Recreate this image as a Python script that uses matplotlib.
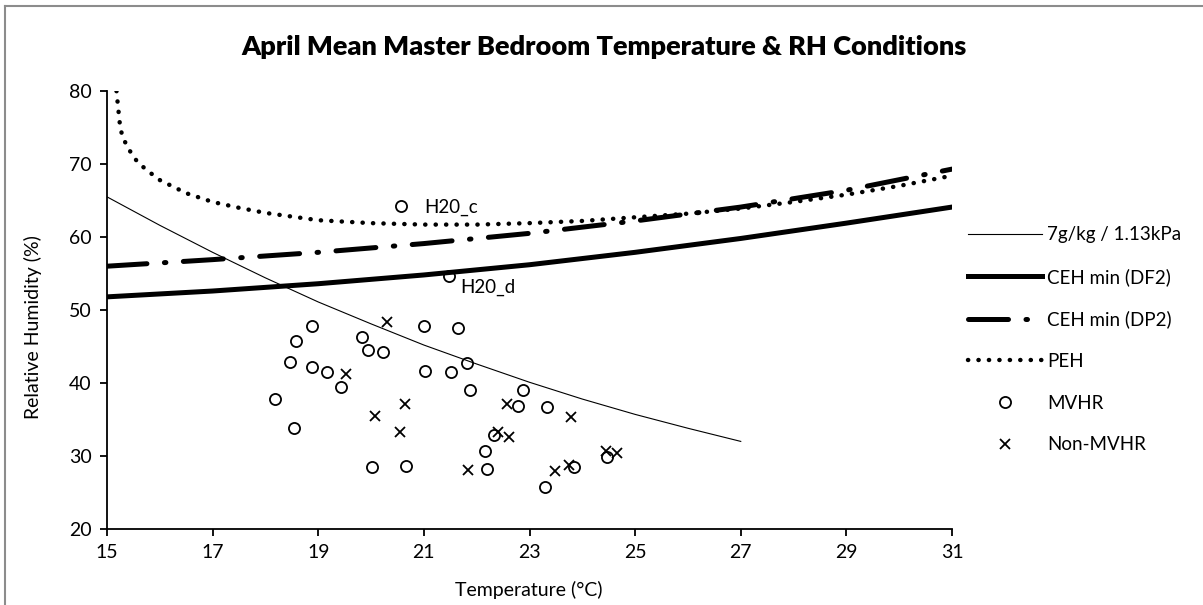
import numpy as np
import matplotlib.pyplot as plt
from matplotlib.lines import Line2D

plt.rcParams['font.family'] = ['Lato', 'DejaVu Sans']

# 7g/kg / 1.13kPa line
t_line = [15, 16, 17, 18, 19, 20, 21, 22, 23, 24, 25, 26, 27]
rh_line = [65.5, 61.6, 57.9, 54.4, 51.1, 48.1, 45.2, 42.6, 40.1, 37.8, 35.7, 33.8, 32.0]

# CEH min curves
t_ceh = [15, 17, 19, 21, 23, 25, 27, 29, 31]
rh_df2 = [51.8, 52.6, 53.6, 54.8, 56.2, 57.9, 59.8, 61.9, 64.1]
rh_dp2 = [56.0, 56.9, 57.9, 59.1, 60.5, 62.2, 64.1, 66.4, 69.3]

# PEH curve
t_peh = [15.18, 15.2, 15.25, 15.3, 15.4, 15.5, 15.6, 15.8, 16.0, 16.5, 17.0, 17.5, 18, 19,
         20, 21, 22, 23, 24, 25, 26, 27, 28, 29, 30, 31]
rh_peh = [80, 78.5, 75.0, 73.6, 72.2, 71.0, 70.1, 68.9, 67.8, 66.0, 64.8, 64.0, 63.3, 62.3,
          61.9, 61.7, 61.7, 61.9, 62.2, 62.7, 63.2, 63.9, 64.8, 65.8, 67.0, 68.4]

# MVHR dwellings
t_mvhr = [20.56, 21.47, 18.89, 18.58, 18.46, 18.88, 19.17, 19.44, 18.18, 18.54, 19.83, 19.95,
          20.02, 21.01, 21.65, 20.23, 21.03, 21.52, 21.81, 21.88, 22.88, 22.79, 23.34, 22.33,
          22.16, 20.66, 22.2, 23.85, 24.46, 23.3]
rh_mvhr = [64.3, 54.7, 47.8, 45.7, 42.9, 42.2, 41.5, 39.4, 37.8, 33.9, 46.3, 44.5,
           28.5, 47.8, 47.5, 44.2, 41.7, 41.5, 42.7, 39.0, 39.0, 36.8, 36.7, 32.9,
           30.7, 28.6, 28.2, 28.5, 29.9, 25.7]

# Non-MVHR dwellings
t_non = [19.52, 20.08, 20.30, 20.65, 20.55, 22.57, 23.79, 22.41, 22.61, 21.84, 23.48, 23.74,
         24.44, 24.66]
rh_non = [41.3, 35.5, 48.4, 37.1, 33.3, 37.1, 35.3, 33.3, 32.65, 28.1, 27.9, 28.7,
          30.7, 30.4]

fig = plt.figure(figsize=(12.03, 6.05), dpi=100)
ax = fig.add_axes([107/1203, 1-529/605, (952-107)/1203, (529-91)/605])

ax.plot(t_line, rh_line, color='black', lw=0.8, label='7g/kg / 1.13kPa')
ax.plot(t_ceh, rh_df2, color='black', lw=3.6, label='CEH min (DF2)')
ax.plot(t_ceh, rh_dp2, color='black', lw=3.6, linestyle=(0, (8, 3.5, 0.3, 3.5)),
        dash_capstyle='round', label='CEH min (DP2)')
ax.plot(t_peh, rh_peh, color='black', lw=3.2, linestyle=(0, (0.05, 2.3)),
        dash_capstyle='round', label='PEH')
ax.plot(t_mvhr, rh_mvhr, 'o', mfc='none', mec='black', mew=1.3, ms=8, label='MVHR')
ax.plot(t_non, rh_non, 'x', color='black', mew=1.3, ms=7, label='Non-MVHR')

ax.text(21.0, 64.1, 'H20_c', fontsize=13.5, va='center', ha='left')
ax.text(21.69, 53.1, 'H20_d', fontsize=13.5, va='center', ha='left')

ax.set_xlim(15, 31)
ax.set_ylim(20, 80)
ax.set_xticks(range(15, 32, 2))
ax.set_yticks(range(20, 81, 10))
ax.spines['top'].set_visible(False)
ax.spines['right'].set_visible(False)
ax.spines['left'].set_linewidth(1.3)
ax.spines['bottom'].set_linewidth(1.3)
ax.tick_params(direction='out', length=5, width=1.3, labelsize=14, pad=6)

fig.text(529/1203, 1-590/605, 'Temperature (°C)', ha='center', va='center', fontsize=14)
fig.text(33/1203, 1-327/605, 'Relative Humidity (%)', ha='center', va='center',
         rotation=90, fontsize=14)
fig.text(604/1203, 1-47/605, 'April Mean Master Bedroom Temperature & RH Conditions',
         ha='center', va='center', fontsize=19.5, fontweight='heavy')

handles, labels = ax.get_legend_handles_labels()
fig.legend(handles, labels, loc='upper left', bbox_to_anchor=(961/1203, 1-219/605),
           frameon=False, fontsize=13.5, handlelength=3.9, handletextpad=0.3,
           labelspacing=1.31, borderaxespad=0)

# outer chart border
fig.add_artist(Line2D([5/1203, 1], [1-6/605, 1-6/605], color='#8c8c8c', lw=1.5))
fig.add_artist(Line2D([5/1203, 5/1203], [0, 1-6/605], color='#8c8c8c', lw=1.5))

fig.savefig('out.png', dpi=100)
